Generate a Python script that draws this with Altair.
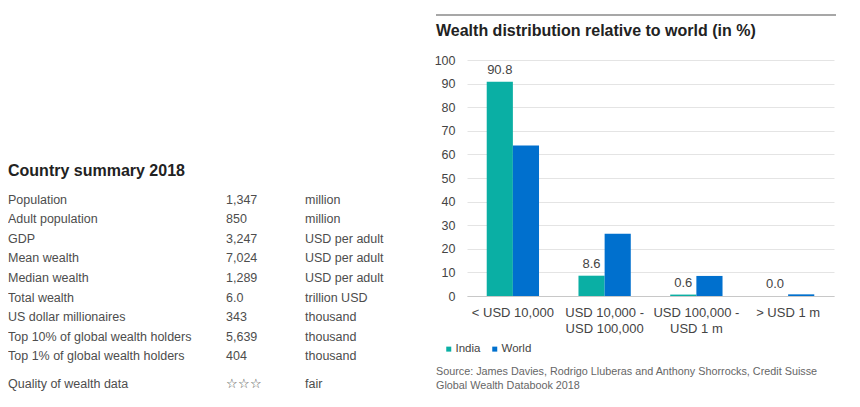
import altair as alt
import pandas as pd

FONT = "Liberation Sans"

# ---- data ----
summary_labels = ["Population", "Adult population", "GDP", "Mean wealth", "Median wealth",
                  "Total wealth", "US dollar millionaires", "Top 10% of global wealth holders",
                  "Top 1% of global wealth holders", "Quality of wealth data"]
summary_values = ["1,347", "850", "3,247", "7,024", "1,289", "6.0", "343", "5,639", "404", "☆☆☆"]
summary_units = ["million", "million", "USD per adult", "USD per adult", "USD per adult",
                 "trillion USD", "thousand", "thousand", "thousand", "fair"]
summary_title = "Country summary 2018"

categories = ["< USD 10,000", "USD 10,000 -|USD 100,000", "USD 100,000 -|USD 1 m", "> USD 1 m"]
series_names = ["India", "World"]
india = [90.8, 8.6, 0.6, 0.0]
world = [63.8, 26.4, 8.5, 0.7]
y_ticks = [0, 10, 20, 30, 40, 50, 60, 70, 80, 90, 100]

chart_title = "Wealth distribution relative to world (in %)"
source_lines = ["Source: James Davies, Rodrigo Lluberas and Anthony Shorrocks, Credit Suisse",
                "Global Wealth Databook 2018"]

TEAL = "#0AAFA4"
BLUE = "#0070CE"

# ---- summary table (drawn to the left of the bar plot) ----
n = len(summary_labels)
rows = []
for i in range(n):
    pos = i + (0.44 if i == n - 1 else 0.0)  # extra gap before the last row
    rows.append({"pos": pos, "label": summary_labels[i],
                 "value": summary_values[i], "unit": summary_units[i]})
table = pd.DataFrame(rows)
title_df = pd.DataFrame({"pos": [-1.5], "text": [summary_title]})

ys = alt.Y("pos:Q", axis=None,
           scale=alt.Scale(domain=[-7.179, 4.923], reverse=True, nice=False, zero=False))
base = alt.Chart(table).encode(y=ys)
txt = dict(align="left", baseline="middle", fontSize=12.5, color="#4d4d4d", font=FONT)
lab = base.mark_text(**txt).encode(x=alt.value(-459), text="label:N")
val = base.mark_text(**txt).encode(x=alt.value(-241), text="value:N")
unit = base.mark_text(**txt).encode(x=alt.value(-162), text="unit:N")
ttl = alt.Chart(title_df).mark_text(align="left", baseline="middle", fontSize=16,
                                   fontWeight="bold", color="#222222", font=FONT).encode(
    x=alt.value(-459), y=ys, text="text:N")
table_layer = alt.layer(ttl, lab, val, unit)

# ---- bar chart ----
bars_rows = []
for c, a, b in zip(categories, india, world):
    bars_rows.append({"category": c, "series": "India", "value": a})
    bars_rows.append({"category": c, "series": "World", "value": b})
bars_df = pd.DataFrame(bars_rows)

x_enc = alt.X("category:N", sort=categories,
              scale=alt.Scale(paddingInner=0.43, paddingOuter=0.215),
              axis=alt.Axis(title=None, labelExpr="split(datum.label, '|')", labelAngle=0,
                            labelFontSize=13, labelColor="#444444", labelPadding=10,
                            labelLineHeight=16, labelBaseline="top", ticks=False,
                            domainColor="#c8c8c8", labelFont=FONT))
y_enc = alt.Y("value:Q", scale=alt.Scale(domain=[0, 100], nice=False),
              axis=alt.Axis(title=None, values=y_ticks, grid=True, gridColor="#e4e4e4",
                            ticks=False, domain=False, labelPadding=12, labelFontSize=12.5,
                            labelColor="#444444", labelFont=FONT, labelOverlap=False))
xo_enc = alt.XOffset("series:N", sort=series_names)

bars = alt.Chart(bars_df).mark_bar().encode(
    x=x_enc, y=y_enc, xOffset=xo_enc,
    color=alt.Color("series:N", sort=series_names,
                    scale=alt.Scale(domain=series_names, range=[TEAL, BLUE]),
                    legend=alt.Legend(orient="none", legendX=-24, legendY=283,
                                      direction="horizontal", title=None, symbolType="square",
                                      symbolSize=25, symbolStrokeWidth=0, labelFontSize=11.5,
                                      labelColor="#444444", columnPadding=8, labelOffset=1,
                                      padding=0, labelFont=FONT)),
)
labels = alt.Chart(bars_df).transform_filter("datum.series == 'India'").mark_text(
    baseline="middle", dy=-12, fontSize=13, color="#444444", font=FONT).encode(
    x=x_enc, y=y_enc, xOffset=xo_enc,
    text=alt.Text("value:Q", format=".1f"),
)
one = pd.DataFrame({"a": [0]})
top_rule = alt.Chart(one).mark_rule(color="#8a8a8a", strokeWidth=1.5).encode(
    x=alt.value(-31), x2=alt.value(369), y=alt.value(-45))
source = alt.Chart(one).mark_text(align="left", baseline="middle", fontSize=10.8,
                                  lineHeight=14.4, color="#666666", font=FONT).encode(
    x=alt.value(-31), y=alt.value(312), text=alt.value(source_lines))

bar_layer = alt.layer(top_rule, bars, labels, source)

chart = alt.layer(bar_layer, table_layer).resolve_scale(y="independent").properties(
    width=367, height=236,
    padding={"left": 0, "top": 6, "right": 0, "bottom": 0},
    title=alt.TitleParams(chart_title, anchor="start", frame="group", dx=-31, fontSize=16,
                          fontWeight="bold", color="#222222", font=FONT,
                          baseline="alphabetic", offset=-37.5),
).configure(font=FONT, view=alt.ViewConfig(stroke=None))

chart.save("out.html", embed_options={"renderer": "svg", "actions": False})
